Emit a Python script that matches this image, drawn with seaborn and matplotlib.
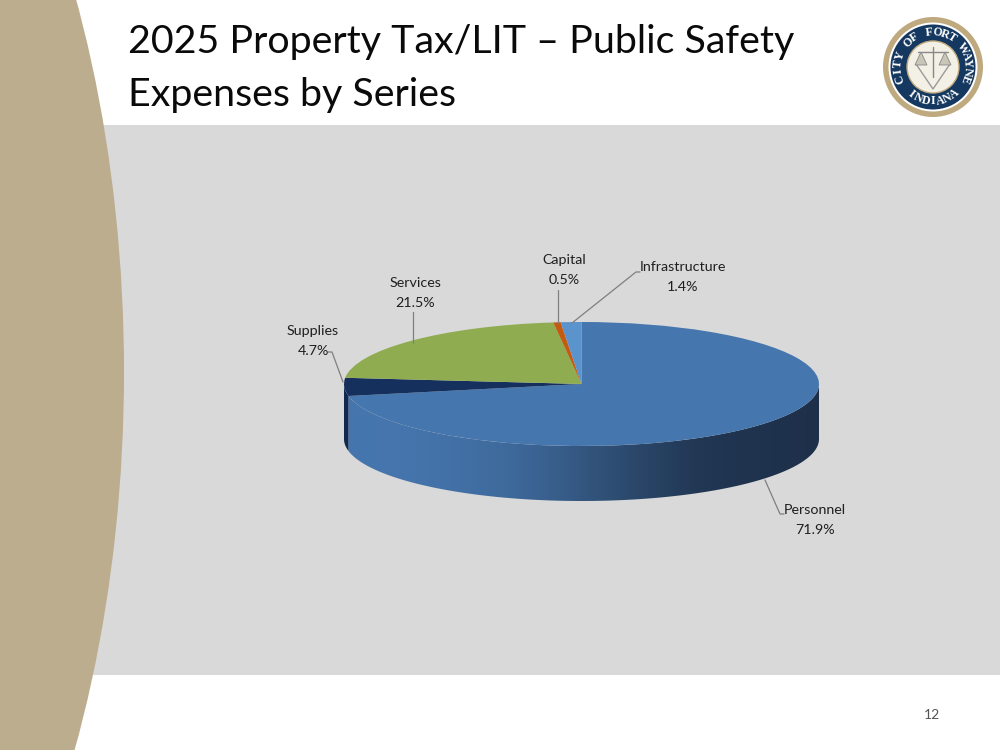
import numpy as np
import matplotlib
matplotlib.use("Agg")
import matplotlib.pyplot as plt
from matplotlib.patches import Ellipse, Rectangle, Circle, Polygon
from matplotlib.colors import LinearSegmentedColormap
import seaborn as sns

categories = ["Personnel", "Supplies", "Services", "Capital", "Infrastructure"]
shares = [71.9, 4.7, 21.5, 0.5, 1.4]
top_colors = ["#4676AE", "#16305E", "#8FAD50", "#C55A11", "#5B93CD"]
title_lines = ["2025 Property Tax/LIT – Public Safety", "Expenses by Series"]
page_number = "12"

sns.set_theme(style="white")
plt.rcParams["font.family"] = ["Lato", "DejaVu Sans"]

W, H = 1000, 750
fig = plt.figure(figsize=(10, 7.5), dpi=100, facecolor="white")

# ---- slide furniture, in pixel coordinates
bg = fig.add_axes([0, 0, 1, 1])
bg.set_xlim(0, W); bg.set_ylim(H, 0); bg.axis("off")
bg.add_patch(Rectangle((0, 125), W, 550, fc="#D9D9D9", ec="none", zorder=1))
bg.add_patch(Ellipse((-300, 372), 848, 1614, fc="#BDAD8F", ec="none", zorder=2))
for yy, line in zip((42, 95), title_lines):
    bg.text(128, yy, line, fontsize=28.4, color="#0A0A0A", va="center", ha="left", zorder=5)
bg.text(932, 715, page_number, fontsize=10, color="#555555", ha="center", va="center")

# ---- seal
cx, cy = 933, 67
bg.add_patch(Circle((cx, cy), 50, fc="#BFA97F", ec="none", zorder=3))
bg.add_patch(Circle((cx, cy), 44.5, fc="white", ec="none", zorder=3))
bg.add_patch(Circle((cx, cy), 42.5, fc="#14385F", ec="none", zorder=3))
bg.add_patch(Circle((cx, cy), 26, fc="#F3F0E6", ec="#BFA97F", lw=1, zorder=3))

def arc_text(s, start, end, r, flip=False):
    for ch, a in zip(s, np.linspace(start, end, len(s))):
        t = np.radians(a)
        x, y = cx + r * np.cos(t), cy - r * np.sin(t)
        rot = a + 90 if flip else a - 90
        bg.text(x, y, ch, color="white", fontsize=8.6, fontweight="bold",
                family="Liberation Serif", rotation=rot, rotation_mode="anchor",
                ha="center", va="center", zorder=4)

arc_text("CITY OF FORT WAYNE", 200, -20, 34.5)
arc_text("INDIANA", 232, 308, 34.5, flip=True)
bg.plot([cx - 17, cx, cx + 17], [cy - 3, cy + 22, cy - 3], color="#9a9a9a", lw=1, zorder=4)
bg.plot([cx, cx], [cy - 20, cy + 10], color="#888888", lw=1, zorder=4)
bg.plot([cx - 15, cx + 15], [cy - 15, cy - 15], color="#888888", lw=1, zorder=4)
for sx in (-12, 12):
    bg.add_patch(Polygon([[cx + sx, cy - 15], [cx + sx - 6, cy - 2], [cx + sx + 6, cy - 2]],
                         fc="#c9c6b8", ec="#888888", lw=0.6, zorder=4))

# ---- pie: the unit circle maps to the ellipse of the disc's top face
pcx, pcy, rx, ry, depth_px = 581.5, 384, 237.5, 62, 55
ax = fig.add_axes([0, 0, 1, 1], facecolor="none")
wedges, _ = ax.pie(shares, colors=top_colors, startangle=90, counterclock=False,
                   radius=1, wedgeprops={"linewidth": 0})
for w in wedges:
    w.set_zorder(4)
ax.set_aspect("auto")
ax.axis("off")

depth = depth_px / ry
bounds = 90 - np.cumsum([0] + shares) * 3.6        # wedge limits, in degrees
personnel_end = bounds[1] + 360                    # lower left, just past 180


def side_band(a0, a1):
    t = np.radians(np.linspace(a0, a1, 200))
    x, y = np.cos(t), np.sin(t)
    return np.r_[np.c_[x, y], np.c_[x, y - depth][::-1]]


side = LinearSegmentedColormap.from_list(
    "side", sns.blend_palette(["#4676AE", "#4575AC", "#4270A5", "#3D6798", "#345780",
                               "#294668", "#213753", "#1F324E", "#1E3049"], 18))
grad = ax.imshow(np.linspace(0, 1, 256)[None, :], cmap=side, aspect="auto",
                 extent=(-1, 1, -1 - depth, 0), zorder=2)
ax.set_xlim((0 - pcx) / rx, (W - pcx) / rx)
ax.set_ylim((pcy - H) / ry, pcy / ry)
clip = Polygon(side_band(personnel_end, 360), transform=ax.transData, fc="none", ec="none")
ax.add_patch(clip)
grad.set_clip_path(clip)
ax.add_patch(Polygon(side_band(180, personnel_end), fc="#12294F", ec="none", zorder=3))

# ---- labels and leader lines, in pixel coordinates
ov = fig.add_axes([0, 0, 1, 1], facecolor="none")
ov.set_xlim(0, W); ov.set_ylim(H, 0); ov.axis("off")
leaders = {
    "Personnel": ([765, 780, 784], [480, 514, 514]),
    "Supplies": ([328, 332, 343], [352, 352, 382]),
    "Services": ([413, 413], [312, 343]),
    "Capital": ([558, 558], [290, 323]),
    "Infrastructure": ([572, 636, 640], [323, 272, 272]),
}
label_pos = {
    "Personnel": (815, 520),
    "Supplies": (313, 341),
    "Services": (415, 293),
    "Capital": (564, 270),
    "Infrastructure": (683, 277),
}
for name, value in zip(categories, shares):
    xs, ys = leaders[name]
    ov.plot(xs, ys, color="#7F7F7F", lw=0.9, zorder=6)
    lx, ly = label_pos[name]
    ov.text(lx, ly, f"{name}\n{value}%", ha="center", va="center", fontsize=10.3,
            color="#1F1F1F", linespacing=1.72, zorder=7)

fig.savefig("out.png", dpi=100, facecolor="white")
